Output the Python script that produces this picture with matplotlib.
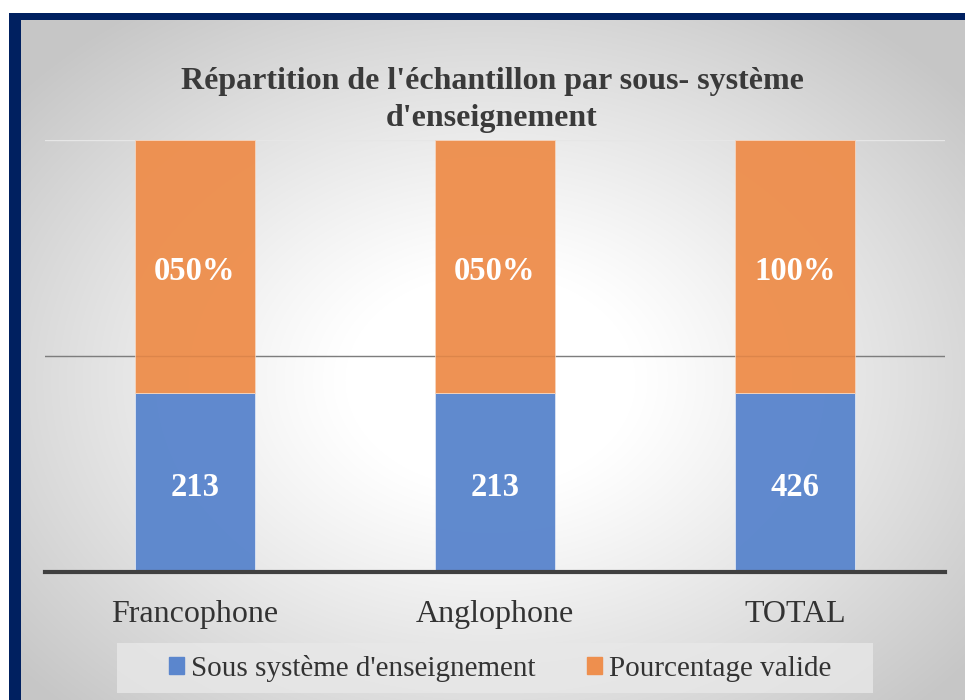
import numpy as np
import matplotlib
matplotlib.use("Agg")
import matplotlib.pyplot as plt
from matplotlib.patches import Rectangle

# ---- data ----
categories = ["Francophone", "Anglophone", "TOTAL"]
counts = [213, 213, 426]
pct_labels = ["050%", "050%", "100%"]
# segment shares as drawn in the reference (percent of column height)
share_counts = [41.4, 41.4, 41.4]
share_pct = [58.6, 58.6, 58.6]
series_names = ["Sous système d'enseignement", "Pourcentage valide"]
title = "Répartition de l'échantillon par sous- système\nd'enseignement"

BLUE = "#5B86CD"
ORANGE = "#EE8F4E"
NAVY = "#002060"
SERIF = ["Liberation Serif", "DejaVu Serif"]

W, H = 965, 700
fig = plt.figure(figsize=(W / 100, H / 100), dpi=100)
fig.patch.set_facecolor("white")

# background: radial gray gradient inside frame
bg = fig.add_axes([0, 0, 1, 1], zorder=0)
bg.axis("off")
yy, xx = np.mgrid[20:H, 21:W]
r = np.sqrt(((xx - 490) / 580.0) ** 2 + ((yy - 380) / 430.0) ** 2)
val = 1 - 0.22 * np.clip((r - 0.25) / 0.8, 0, 1) ** 1.1
img = np.dstack([val, val, val])
bg.imshow(img, extent=[21, W, H, 20], aspect="auto", interpolation="bilinear")
bg.add_patch(Rectangle((9, 13), W - 9, 7, color=NAVY, lw=0))
bg.add_patch(Rectangle((9, 13), 12, H - 13, color=NAVY, lw=0))
bg.set_xlim(0, W)
bg.set_ylim(H, 0)

# main axes
left, right, top, bottom = 45, 945, 140, 572
ax = fig.add_axes([left / W, (H - bottom) / H, (right - left) / W, (bottom - top) / H], zorder=1)
ax.set_facecolor("none")
x = np.arange(len(categories))
ax.bar(x, share_counts, width=0.4, color=BLUE, edgecolor="#dfe6f4", linewidth=0.6, alpha=0.97, zorder=2)
ax.bar(x, share_pct, width=0.4, bottom=share_counts, color=ORANGE, edgecolor="#f6d6c0", linewidth=0.6, alpha=0.97, zorder=2)
ax.axhline(50, color="#858585", lw=1.0, zorder=1)
ax.axhline(100, color="#e6e6e6", lw=1.0, zorder=1)
ax.axhline(50, color="#000000", lw=1.0, alpha=0.06, zorder=3)

for i in range(len(categories)):
    ax.text(x[i], share_counts[i] / 2 - 1.2, str(counts[i]), ha="center", va="center",
            color="white", fontsize=23.5, fontweight="bold", family=SERIF, zorder=4)
    ax.text(x[i], share_counts[i] + share_pct[i] / 2 - 1.2, pct_labels[i], ha="center", va="center",
            color="white", fontsize=23.5, fontweight="bold", family=SERIF, zorder=4)

ax.set_xlim(-0.5, 2.5)
ax.set_ylim(0, 100)
ax.set_yticks([])
ax.set_xticks(x)
ax.set_xticklabels(categories, fontsize=23, family=SERIF, color="#333333")
ax.tick_params(axis="x", length=0, pad=20)
for s in ["top", "left", "right"]:
    ax.spines[s].set_visible(False)
ax.spines["bottom"].set_color("#404040")
ax.spines["bottom"].set_linewidth(3)
ax.spines["bottom"].set_zorder(5)

fig.text(492 / W, 1 - 100 / H, title, ha="center", va="center", fontsize=23,
         fontweight="bold", family=SERIF, color="#3a3a3a", linespacing=1.35)

# legend
bg.add_patch(Rectangle((117, 643), 756, 50, color="#e8e8e8", alpha=0.8, lw=0, zorder=2))
handles = [Rectangle((0, 0), 1, 1, color=BLUE), Rectangle((0, 0), 1, 1, color=ORANGE)]
leg = fig.legend(handles, series_names, loc="center", bbox_to_anchor=(500 / W, 1 - 668 / H),
                 ncol=2, frameon=False, prop={"family": SERIF, "size": 21},
                 handlelength=0.52, handleheight=0.52, handletextpad=0.25, columnspacing=1.75)
for t in leg.get_texts():
    t.set_color("#333333")

fig.savefig("out.png", dpi=100)
